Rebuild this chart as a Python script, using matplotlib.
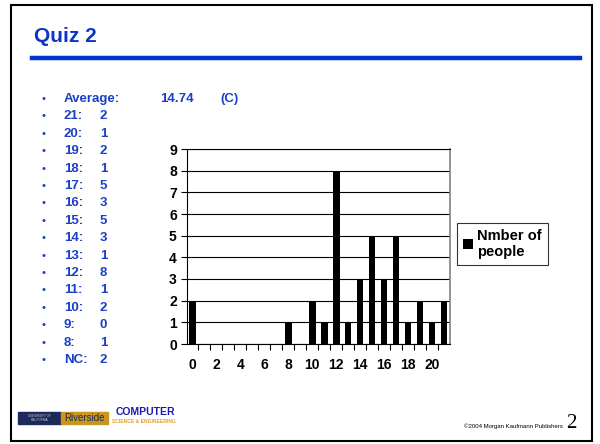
import matplotlib.pyplot as plt
from matplotlib.patches import Rectangle
from matplotlib.lines import Line2D

plt.rcParams['font.family'] = ['Liberation Sans', 'DejaVu Sans']

# scores from the slide list (NC = no credit, drawn at 0)
score_labels = ['21', '20', '19', '18', '17', '16', '15', '14', '13', '12', '11', '10', '9', '8', 'NC']
score_counts = [2, 1, 2, 1, 5, 3, 5, 3, 1, 8, 1, 2, 0, 1, 2]
average = '14.74'
grade = '(C)'

categories = list(range(22))
counts = [0] * 22
for lab, c in zip(score_labels, score_counts):
    counts[0 if lab == 'NC' else int(lab)] = c
xtick_labels = [str(c) if c % 2 == 0 else '' for c in categories]

W, H = 600, 444
fig = plt.figure(figsize=(W / 100, H / 100), dpi=100)

def fx(x):
    return x / W

def fy(y):
    return 1 - y / H

blue = '#1a3fc8'

# slide frame
fig.add_artist(Rectangle((fx(11), fy(441)), fx(592) - fx(11), fy(5) - fy(441),
                         transform=fig.transFigure, fill=False, ec='black', lw=1.5))

# title and rule
fig.text(fx(34), fy(36), 'Quiz 2', color='#0a35c8', fontsize=15, fontweight='bold', va='center')
fig.add_artist(Line2D([fx(32), fx(580)], [fy(58), fy(58)], transform=fig.transFigure,
                      color='#0033cc', lw=3.2))

# bullet list
rows = [('Average:', '')] + [(l + ':', str(v)) for l, v in zip(score_labels, score_counts)]
for i, (lab, val) in enumerate(rows):
    y = fy(99 + i * 17.4)
    fig.text(fx(44), y, '\u2022', color=blue, fontsize=8, va='center', ha='center')
    fig.text(fx(64), y, lab, color=blue, fontsize=9.5, fontweight='bold', va='center')
    if val:
        fig.text(fx(100), y, val, color=blue, fontsize=9.5, fontweight='bold', va='center')
fig.text(fx(160), fy(99), average, color=blue, fontsize=9.5, fontweight='bold', va='center')
fig.text(fx(220), fy(99), grade, color=blue, fontsize=9.5, fontweight='bold', va='center')

# chart
ax = fig.add_axes([fx(186.5), fy(344), fx(450) - fx(186.5), fy(149) - fy(344)])
bars = ax.bar(categories, counts, width=0.55, color='black', zorder=3)
ax.set_xlim(-0.5, 21.5)
ax.set_ylim(0, 9)
ax.set_yticks(range(10))
ax.set_xticks(categories)
ax.set_xticklabels(xtick_labels)
ax.set_xticks([c + 0.5 for c in categories[:-1]], minor=True)
ax.tick_params(axis='x', which='major', length=0, pad=10)
ax.tick_params(axis='x', which='minor', length=4, width=0.8, direction='out')
ax.tick_params(axis='y', length=4, width=0.8, direction='out', pad=3)
for t in ax.get_xticklabels() + ax.get_yticklabels():
    t.set_fontweight('bold')
    t.set_fontsize(10)
ax.grid(axis='y', color='black', lw=0.8, zorder=0)
ax.spines['right'].set_color('#808080')
ax.spines['right'].set_linewidth(1.2)
for s in ['left', 'bottom', 'top']:
    ax.spines[s].set_linewidth(0.8)

leg = fig.legend(handles=[bars], labels=['Nmber of\npeople'], loc='upper left',
                 bbox_to_anchor=(fx(457), fy(223)), frameon=True, fancybox=False,
                 handlelength=0.7, handleheight=0.7, handletextpad=0.3, borderpad=0.4,
                 borderaxespad=0, prop={'weight': 'bold', 'size': 10.5})
leg.get_frame().set_edgecolor('black')
leg.get_frame().set_linewidth(0.8)

# footer
fig.add_artist(Rectangle((fx(18), fy(424)), fx(61) - fx(18), fy(412) - fy(424),
                         transform=fig.transFigure, color='#1c2a5a'))
fig.add_artist(Rectangle((fx(61), fy(424)), fx(108) - fx(61), fy(412) - fy(424),
                         transform=fig.transFigure, color='#c8961e'))
fig.text(fx(39.5), fy(418), 'UNIVERSITY OF\nCALIFORNIA', color='#c8c8d8', fontsize=2.2,
         ha='center', va='center', linespacing=0.9)
fig.text(fx(84.5), fy(418), 'Riverside', color='#1c2a5a', fontsize=7, ha='center', va='center')
fig.text(fx(116), fy(412), 'COMPUTER', color='#1a1aa8', fontsize=7.5, fontweight='bold', va='center')
fig.text(fx(112), fy(421.5), 'SCIENCE & ENGINEERING', color='#e0a020', fontsize=3.6,
         fontweight='bold', va='center')
fig.text(fx(563), fy(426), '\u00a92004 Morgan Kaufmann Publishers', fontsize=4.3,
         ha='right', va='center')
fig.text(fx(566), fy(423), '2', fontsize=15, family='Liberation Serif', ha='left', va='center')

fig.savefig('out.png', dpi=100)
